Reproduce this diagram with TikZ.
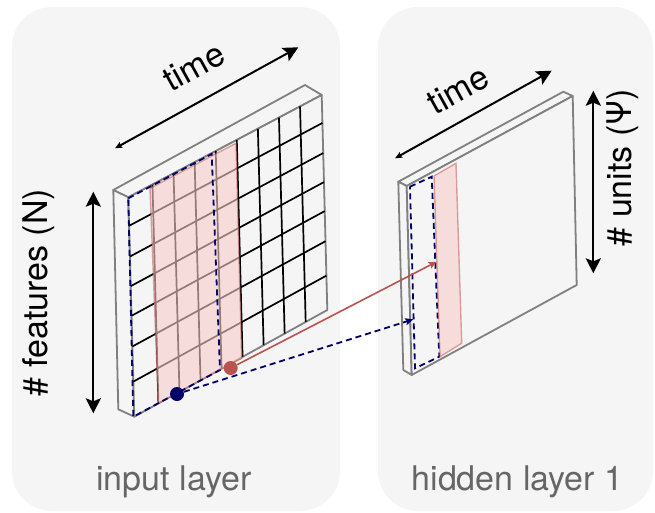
\documentclass[tikz,border=0pt]{standalone}
\usepackage{fontspec}
\setmainfont{TeX Gyre Heros}
\usetikzlibrary{arrows.meta,calc}
\definecolor{panel}{HTML}{F5F5F5}
\definecolor{slabline}{HTML}{808080}
\definecolor{navy}{HTML}{000066}
\definecolor{redline}{HTML}{B85450}
\definecolor{pinkfill}{HTML}{F8CECC}
\definecolor{labelgray}{HTML}{666666}
\begin{document}
\begin{tikzpicture}[x=1pt,y=-1pt,
  panelbox/.style={fill=panel, rounded corners=40pt},
  slabface/.style={draw=slabline, fill=panel, line width=1.8pt, line join=round},
  gridline/.style={black, line width=1.7pt},
  highlight/.style={draw=redline, draw opacity=0.5, fill=pinkfill, fill opacity=0.6, line width=1.4pt},
  window/.style={draw=navy, line width=1.8pt, dash pattern=on 6pt off 4pt},
  bigtip/.tip={Stealth[length=15pt,width=15pt,inset=3pt]},
  smalltip/.tip={Stealth[length=7pt,width=6pt,inset=1pt]},
  linktip/.tip={Stealth[length=8pt,width=7pt,inset=1.5pt]},
  dimarrow/.style={line width=2pt, {bigtip}-{bigtip}},
  timearrow/.style={line width=2pt, {smalltip}-{bigtip}},
  axislabel/.style={font=\fontsize{34}{40}\selectfont, inner sep=0pt},
  layerlabel/.style={font=\fontsize{34}{40}\selectfont, text=labelgray, inner sep=0pt},
  dot/.style={circle, inner sep=0pt, minimum size=14pt},
]
\useasboundingbox (0,0) rectangle (655,512);
\fill[white] (0,0) rectangle (655,512);

% background panels
\path[panelbox] (12,7) rectangle (340,511);
\path[panelbox] (378,7) rectangle (653,511);

% ---------------- input layer slab ----------------
\coordinate (iBTL) at (113.3,190);
\coordinate (iFTL) at (128.3,197.3);
\coordinate (iBTR) at (305,85);
\coordinate (iFTR) at (321.7,95);
\coordinate (iFBR) at (327.3,310);
\coordinate (iFBL) at (134.3,416.7);
\coordinate (iBBL) at (118.3,409.3);

\draw[slabface] (iBTL) -- (iBTR) -- (iFTR) -- (iFTL) -- cycle;
\draw[slabface] (iBTL) -- (iFTL) -- (iFBL) -- (iBBL) -- cycle;
\draw[slabface] (iFTL) -- (iFTR) -- (iFBR) -- (iFBL) -- cycle;

% feature x time grid
\foreach \t in {0.125,0.234,0.343,0.452,0.561,0.670,0.779,0.888}
  \draw[gridline] ($(iFTL)!\t!(iFTR)$) -- ($(iFBL)!\t!(iFBR)$);
\foreach \s in {0.13,0.27,0.405,0.54,0.68,0.84}
  \draw[gridline] ($(iFTL)!\s!(iFBL)$) -- ($(iFTR)!\s!(iFBR)$);

% highlighted time window and receptive window
\draw[highlight] (150,188.3) -- (236,143.3) -- (241.7,358.3) -- (158.3,403.3) -- cycle;
\draw[window] (128.3,198.3) -- (211.7,154) -- (220,370) -- (133.3,416.7) -- cycle;

% ---------------- hidden layer slab ----------------
\coordinate (hBTL) at (398.3,181.7);
\coordinate (hFTL) at (406.7,186);
\coordinate (hBTR) at (563.3,91.7);
\coordinate (hFTR) at (572.7,96);
\coordinate (hFBR) at (576.7,285);
\coordinate (hFBL) at (411.7,375);
\coordinate (hBBL) at (403.3,370);

\draw[slabface] (hBTL) -- (hBTR) -- (hFTR) -- (hFTL) -- cycle;
\draw[slabface] (hBTL) -- (hFTL) -- (hFBL) -- (hBBL) -- cycle;
\draw[slabface] (hFTL) -- (hFTR) -- (hFBR) -- (hFBL) -- cycle;

\draw[window] (410,186.7) -- (431.7,176.7) -- (439.3,356.7) -- (415,368.3) -- cycle;
\draw[highlight] (434,176) -- (456,163.3) -- (461.7,343.3) -- (440,356.7) -- cycle;

% ---------------- connections ----------------
\node[dot, fill=navy] (bdot) at (177,394) {};
\node[dot, fill=redline] (rdot) at (230.7,368) {};
\coordinate (btip) at (413.3,319.3);
\coordinate (rtip) at (436.7,261.7);
\draw[navy, line width=1.8pt, dash pattern=on 6pt off 4pt, -{linktip}] (bdot) -- (btip);
\draw[redline, line width=1.6pt, -{linktip}] (rdot) -- (rtip);

% ---------------- dimension arrows and labels ----------------
\coordinate (ta1) at (115,148.3);
\coordinate (tb1) at (298.3,47.3);
\draw[timearrow] (ta1) -- (tb1);
\node[axislabel, rotate=29] (time1) at (194,66.7) {time};

\coordinate (ta2) at (395,158.3);
\coordinate (tb2) at (551.7,70.7);
\draw[timearrow] (ta2) -- (tb2);
\node[axislabel, rotate=29] (time2) at (458.3,90) {time};

\coordinate (fa) at (93.3,413.3);
\coordinate (fb) at (93.3,191.7);
\draw[dimarrow] (fa) -- (fb);
\node[axislabel, rotate=90] (feat) at (39,292.5) {\# features (N)};

\coordinate (ua) at (593.3,273.3);
\coordinate (ub) at (593.3,90.7);
\draw[dimarrow] (ua) -- (ub);
\node[axislabel, rotate=90] (units) at (622.7,167.5) {\# units (Ψ)};

% layer captions
\node[layerlabel, anchor=base] (inlbl) at (174,490) {input layer};
\node[layerlabel, anchor=base] (hidlbl) at (517.5,490) {hidden layer 1};
\end{tikzpicture}
\end{document}
